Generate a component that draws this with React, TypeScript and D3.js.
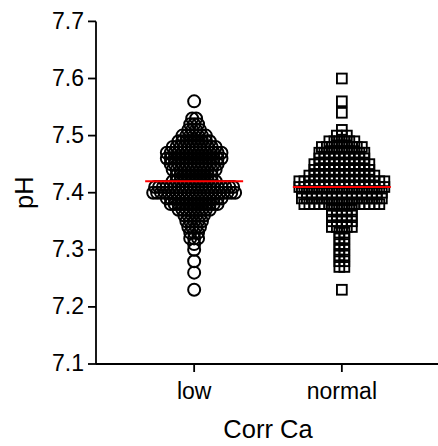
import React from "react";
import * as d3 from "d3";

const categories = ["low", "normal"];

const lowValues = [7.56, 7.53, 7.52, 7.51, 7.5, 7.49, 7.48, 7.47, 7.46, 7.45, 7.44, 7.43, 7.42, 7.41, 7.4, 7.39, 7.38, 7.37, 7.36, 7.35, 7.34, 7.33, 7.32, 7.31, 7.3, 7.28, 7.26, 7.23];
const lowCounts = [1, 2, 3, 4, 7, 9, 12, 15, 15, 13, 12, 10, 12, 21, 22, 15, 13, 9, 6, 5, 4, 3, 3, 1, 1, 1, 1, 1];

const normalValues = [7.6, 7.56, 7.54, 7.51, 7.5, 7.49, 7.48, 7.47, 7.46, 7.45, 7.44, 7.43, 7.42, 7.41, 7.4, 7.39, 7.38, 7.37, 7.36, 7.35, 7.34, 7.33, 7.32, 7.31, 7.3, 7.29, 7.28, 7.27, 7.23];
const normalCounts = [1, 1, 1, 1, 3, 6, 9, 10, 10, 12, 12, 14, 18, 18, 17, 17, 16, 5, 5, 5, 5, 2, 2, 2, 2, 2, 2, 2, 1];

const yTicks = [7.1, 7.2, 7.3, 7.4, 7.5, 7.6, 7.7];
const yTitle = "pH";
const xTitle = "Corr Ca";

const W = 438;
const H = 446;
const FONT = "'Liberation Sans', Arial, Helvetica, sans-serif";

type Pt = { v: number; dx: number };

function layoutRows(values: number[], counts: number[], spacing: number): Pt[] {
  const pts: Pt[] = [];
  values.forEach((v, i) => {
    const n = counts[i];
    for (let j = 0; j < n; j++) {
      pts.push({ v, dx: (j - (n - 1) / 2) * spacing });
    }
  });
  return pts;
}

export default function App() {
  const y = d3.scaleLinear().domain([7.1, 7.7]).range([364, 21.4]);
  const x = d3.scalePoint<string>().domain(categories).range([96, 440]).padding(0.6645);

  const lowPts = layoutRows(lowValues, lowCounts, 3.9);
  const normalPts = layoutRows(normalValues, normalCounts, 5);

  const lowMedian = d3.median(lowPts.map((p) => p.v)) as number;
  const normalMedian = d3.median(normalPts.map((p) => p.v)) as number;

  const xl = x("low") as number;
  const xn = x("normal") as number;
  const axisX = 96;
  const axisY = y(7.1);
  const sq = 9.8;

  return (
    <svg width={W} height={H} style={{ position: "absolute", left: 0, top: 0, background: "#fff" }}>
      <rect x={0} y={0} width={W} height={H} fill="#fff" />
      {/* points */}
      <g fill="none" stroke="#000">
        {lowPts.map((p, i) => (
          <circle key={"l" + i} cx={xl + p.dx} cy={y(p.v)} r={6} strokeWidth={2} />
        ))}
        {normalPts.map((p, i) => (
          <rect key={"n" + i} x={xn + p.dx - sq / 2} y={y(p.v) - sq / 2} width={sq} height={sq} strokeWidth={1.9} />
        ))}
      </g>
      {/* medians */}
      <g stroke="#ff0000" strokeWidth={2}>
        <line x1={xl - 49} x2={xl + 49} y1={y(lowMedian)} y2={y(lowMedian)} />
        <line x1={xn - 49} x2={xn + 49} y1={y(normalMedian)} y2={y(normalMedian)} />
      </g>
      {/* axes */}
      <g stroke="#000" strokeWidth={1.8} fill="none">
        <line x1={axisX} x2={axisX} y1={y(7.7)} y2={axisY} />
        <line x1={axisX} x2={W + 4} y1={axisY} y2={axisY} />
        {yTicks.map((t) => (
          <line key={t} x1={axisX - 8} x2={axisX} y1={y(t)} y2={y(t)} />
        ))}
        {categories.map((c) => (
          <line key={c} x1={x(c) as number} x2={x(c) as number} y1={axisY} y2={axisY + 8} />
        ))}
      </g>
      <g fontFamily={FONT} fontSize={23} fill="#000">
        {yTicks.map((t) => (
          <text key={t} x={84} y={y(t)} dy="0.32em" textAnchor="end">
            {d3.format(".1f")(t)}
          </text>
        ))}
        {categories.map((c) => (
          <text key={c} x={x(c) as number} y={399} textAnchor="middle">
            {c}
          </text>
        ))}
      </g>
      <g fontFamily={FONT} fontSize={25.5} fill="#000">
        <text x={268} y={438} textAnchor="middle">
          {xTitle}
        </text>
        <text transform={`translate(33, ${y(7.4)}) rotate(-90)`} textAnchor="middle">
          {yTitle}
        </text>
      </g>
    </svg>
  );
}
